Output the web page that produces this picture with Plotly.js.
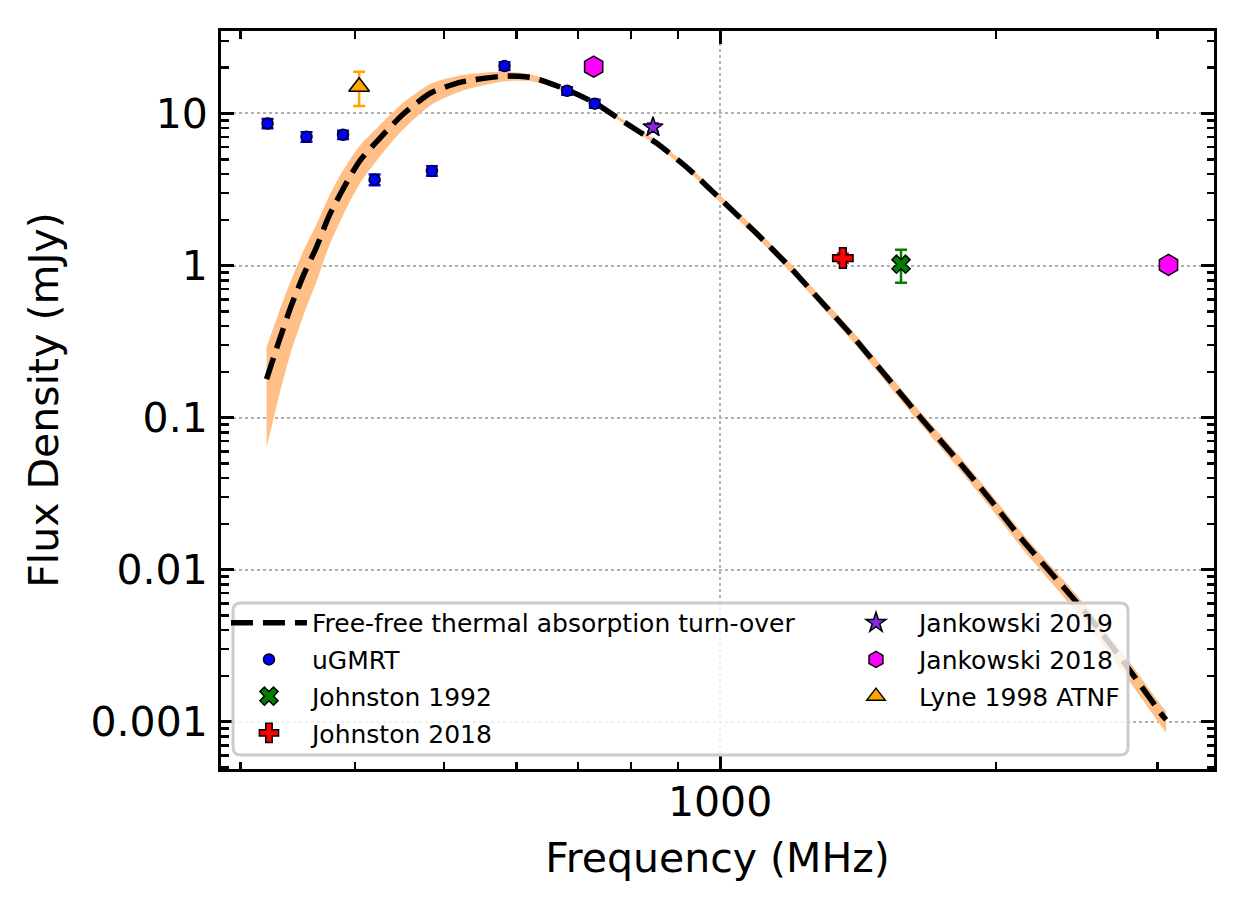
<!DOCTYPE html>
<html>
<head>
<meta charset="utf-8">
<script src="https://cdn.plot.ly/plotly-3.0.1.min.js"></script>
<style>html,body{margin:0;padding:0;background:#fff;}#chart{width:1242px;height:910px;}</style>
</head>
<body>
<div id="chart"></div>
<script>
// ---- Data ----
// Free-free thermal absorption model curve and its uncertainty band
const modelFreq = [320.2, 330.7, 340.6, 352.1, 362.6, 374.4, 389.4, 404.3, 426.9, 450.8, 483.9, 521.9, 581.9, 624.6, 679.5, 729.3, 783.2, 851.6, 925.8, 1002.5, 1094.8, 1190, 1294, 1389.6, 1529.6, 1663.5, 1808.9, 1966.8, 2138.5, 2325.7, 2527.4, 2748.6, 3039.8, 3065];
const modelFlux = [0.179, 0.324, 0.542, 0.891, 1.302, 2.104, 3.318, 4.85, 7.02, 9.85, 13.69, 16.08, 17.62, 17.19, 14.39, 11.76, 8.90, 6.41, 4.27, 2.71, 1.635, 0.985, 0.565, 0.352, 0.1764, 0.0961, 0.0537, 0.0293, 0.01555, 0.0087, 0.00486, 0.00252, 0.00109, 0.00103];
const modelHigh = [0.290, 0.502, 0.802, 1.288, 1.839, 2.838, 4.373, 6.11, 8.54, 11.71, 15.72, 17.83, 18.88, 18.0, 14.79, 12.03, 9.15, 6.63, 4.45, 2.85, 1.732, 1.051, 0.605, 0.379, 0.1912, 0.1046, 0.0589, 0.0323, 0.01725, 0.00969, 0.00545, 0.00284, 0.00124, 0.00117];
const modelLow = [0.0635, 0.1414, 0.2716, 0.490, 0.767, 1.328, 2.243, 3.43, 5.33, 7.82, 11.39, 14.01, 16.26, 16.23, 13.90, 11.49, 8.66, 6.19, 4.10, 2.58, 1.544, 0.919, 0.525, 0.325, 0.1609, 0.0870, 0.0482, 0.0260, 0.01364, 0.00754, 0.00416, 0.00213, 0.000902, 0.000847];

// Measurements
const ugmrtFreq = [321, 354, 388, 420, 485, 582, 681, 730];
const ugmrtFlux = [8.59, 7.02, 7.24, 3.67, 4.19, 20.5, 14.1, 11.6];
const ugmrtErr  = [0.6, 0.5, 0.45, 0.3, 0.3, 1.2, 0.8, 0.7];

const johnston1992Freq = [1575];
const johnston1992Flux = [1.02];
const johnston1992Err  = [0.25];

const johnston2018Freq = [1361];
const johnston2018Flux = [1.12];
const johnston2018Err  = [0.08];

const jankowski2019Freq = [845];
const jankowski2019Flux = [8.12];
const jankowski2019Err  = [0.5];

const jankowski2018Freq = [728, 3083];
const jankowski2018Flux = [20.3, 1.01];
const jankowski2018Err  = [1.5, 0.07];

const lyneFreq = [404];
const lyneFlux = [15.0];
const lyneErr  = [3.8];

// Tick labels
const xTickVals = [1000];
const xTickText = ['1000'];
const yTickVals = [0.001, 0.01, 0.1, 1, 10];
const yTickText = ['0.001', '0.01', '0.1', '1', '10'];
const xMinorVals = [300, 400, 500, 600, 700, 800, 900, 2000, 3000];
const yMinorVals = [];
[0.0001, 0.001, 0.01, 0.1, 1, 10].forEach(d => { for (let k = 2; k <= 9; k++) yMinorVals.push(+(d * k).toPrecision(3)); });

// ---- Traces ----
const FONT = 'DejaVu Sans, Liberation Sans, sans-serif';
function errTrace(name, x, y, err, color, symbol, size, legend, group) {
  return {
    type: 'scatter', mode: 'markers', name: name, x: x, y: y,
    legend: legend, legendgroup: group,
    marker: {symbol: symbol, size: size, color: color, line: {color: 'black', width: 1.5}},
    error_y: {type: 'data', array: err, visible: true, color: color, thickness: 2.5, width: 6},
    hoverinfo: 'x+y+name'
  };
}

const traces = [
  {type: 'scatter', mode: 'lines', x: modelFreq, y: modelLow, line: {width: 0, color: 'rgba(0,0,0,0)', shape: 'spline', smoothing: 0.6}, showlegend: false, hoverinfo: 'skip'},
  {type: 'scatter', mode: 'lines', x: modelFreq, y: modelHigh, line: {width: 0, color: 'rgba(0,0,0,0)', shape: 'spline', smoothing: 0.6}, fill: 'tonexty', fillcolor: '#ffbf87', showlegend: false, hoverinfo: 'skip'},
  {type: 'scatter', mode: 'lines', name: 'Free-free thermal absorption turn-over', x: modelFreq, y: modelFlux,
   line: {color: 'black', width: 5.5, dash: '22px,10px', shape: 'spline', smoothing: 0.6}, legend: 'legend', legendgroup: 'g1'},
  errTrace('uGMRT', ugmrtFreq, ugmrtFlux, ugmrtErr, '#0000ff', 'circle', 11, 'legend', 'g2'),
  errTrace('Johnston 1992', johnston1992Freq, johnston1992Flux, johnston1992Err, '#008000', 'x', 16, 'legend', 'g3'),
  errTrace('Johnston 2018', johnston2018Freq, johnston2018Flux, johnston2018Err, '#ff0000', 'cross', 17, 'legend', 'g4'),
  errTrace('Jankowski 2019', jankowski2019Freq, jankowski2019Flux, jankowski2019Err, '#8a2be2', 'star', 15, 'legend2', 'g5'),
  errTrace('Jankowski 2018', jankowski2018Freq, jankowski2018Flux, jankowski2018Err, '#ff00ff', 'hexagon', 21, 'legend2', 'g6'),
  errTrace('Lyne 1998 ATNF', lyneFreq, lyneFlux, lyneErr, '#ffa500', 'triangle-up', 18, 'legend2', 'g7')
];

// legend frame (rounded rectangle) in paper coords
const bx0 = 0.0121, bx1 = 0.9134, by0 = 0.019, by1 = 0.2249, rx = 0.008, ry = 0.0108;
const framePath = `M ${bx0+rx},${by0} L ${bx1-rx},${by0} Q ${bx1},${by0} ${bx1},${by0+ry} L ${bx1},${by1-ry} Q ${bx1},${by1} ${bx1-rx},${by1} L ${bx0+rx},${by1} Q ${bx0},${by1} ${bx0},${by1-ry} L ${bx0},${by0+ry} Q ${bx0},${by0} ${bx0+rx},${by0} Z`;

const axisCommon = {
  type: 'log', showline: true, linecolor: 'black', linewidth: 3, mirror: 'allticks',
  ticks: 'inside', ticklen: 13, tickwidth: 3, tickcolor: 'black',
  showgrid: true, gridcolor: '#b0b0b0', gridwidth: 2, griddash: 'dot',
  zeroline: false, automargin: false,
  tickfont: {family: FONT, size: 41, color: 'black'}
};

const legendCommon = {
  xanchor: 'left', yanchor: 'top',
  bgcolor: 'rgba(0,0,0,0)', borderwidth: 0, itemwidth: 76,
  font: {family: FONT, size: 25, color: 'black'},
  tracegroupgap: 1.2, traceorder: 'grouped'
};

const layout = {
  width: 1242, height: 910,
  margin: {l: 221, r: 28, t: 31, b: 141},
  paper_bgcolor: 'white', plot_bgcolor: 'white',
  font: {family: FONT, color: 'black'},
  showlegend: true,
  xaxis: Object.assign({}, axisCommon, {
    range: [Math.log10(285.6), Math.log10(3456)],
    tickmode: 'array', tickvals: xTickVals, ticktext: xTickText,
    ticklabelstandoff: -5,
    minor: {tickmode: 'array', tickvals: xMinorVals, ticks: 'inside', ticklen: 7.5, tickwidth: 2.5, tickcolor: 'black', showgrid: false},
    title: {text: 'Frequency (MHz)', font: {family: FONT, size: 41, color: 'black'}, standoff: 19}
  }),
  yaxis: Object.assign({}, axisCommon, {
    range: [-3.311, 1.5424],
    tickmode: 'array', tickvals: yTickVals, ticktext: yTickText,
    ticklabelstandoff: 2,
    minor: {tickmode: 'array', tickvals: yMinorVals, ticks: 'inside', ticklen: 7.5, tickwidth: 2.5, tickcolor: 'black', showgrid: false},
    title: {text: 'Flux Density (mJy)', font: {family: FONT, size: 41, color: 'black'}, standoff: 20}
  }),
  legend: Object.assign({}, legendCommon, {x: 0.005, y: 0.229}),
  legend2: Object.assign({}, legendCommon, {x: 0.6163, y: 0.229}),
  shapes: [{type: 'path', xref: 'paper', yref: 'paper', path: framePath,
            fillcolor: 'rgba(255,255,255,0.8)', line: {color: '#cccccc', width: 3}, layer: 'above'}]
};

Plotly.newPlot('chart', traces, layout, {displayModeBar: false, staticPlot: true});
</script>
</body>
</html>
